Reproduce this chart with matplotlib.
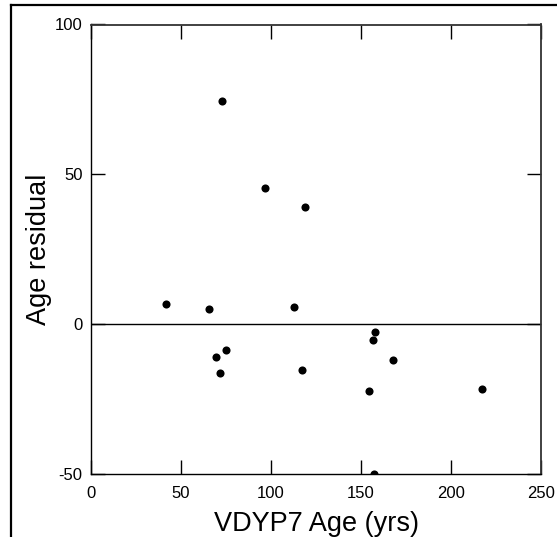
import matplotlib
matplotlib.use("Agg")
import matplotlib.pyplot as plt
from matplotlib.lines import Line2D

plt.rcParams['font.family'] = ['Liberation Sans', 'DejaVu Sans']
plt.rcParams['axes.unicode_minus'] = False

vdyp_age = [72.6, 96.5, 118.9, 41.7, 65.6, 112.8, 157.6, 156.7, 75.0, 69.4,
            71.7, 117.4, 167.6, 154.6, 217.1, 157.4]
age_residual = [74.5, 45.5, 39.0, 6.6, 5.2, 5.6, -2.6, -5.4, -8.6, -10.9,
                -16.2, -15.2, -11.8, -22.2, -21.7, -50.0]
x_ticks = [0, 50, 100, 150, 200, 250]
y_ticks = [-50, 0, 50, 100]

W, H = 557, 537
fig = plt.figure(figsize=(W / 100, H / 100), dpi=100)
ax = fig.add_axes([91 / W, 1 - 474 / H, (541 - 91) / W, (474 - 24.5) / H])

ax.scatter(vdyp_age, age_residual, s=34, color='black', zorder=3, linewidths=0)
ax.axhline(0, color='black', linewidth=1.0, zorder=2)

ax.set_xlim(0, 250)
ax.set_ylim(-50, 100)
ax.set_xticks(x_ticks)
ax.set_yticks(y_ticks)
ax.tick_params(direction='in', length=10, width=1.0, labelsize=12,
               top=True, right=True, pad=6, color='black')
ax.tick_params(axis='x', pad=9)
for s in ['left', 'bottom']:
    ax.spines[s].set_linewidth(1.0)
    ax.spines[s].set_color('black')
for s in ['top', 'right']:
    ax.spines[s].set_linewidth(1.3)
    ax.spines[s].set_color('#333333')

ax.set_xlabel('VDYP7 Age (yrs)', fontsize=19.5, labelpad=7)
ax.set_ylabel('Age residual', fontsize=19.5, labelpad=2)

# outer frame (left and top edges visible)
fig.add_artist(Line2D([10.5 / W, 10.5 / W], [0, 1 - 5 / H], transform=fig.transFigure,
                      color='black', linewidth=1.6))
fig.add_artist(Line2D([10.5 / W, 1], [1 - 5 / H, 1 - 5 / H], transform=fig.transFigure,
                      color='black', linewidth=1.6))

fig.savefig('out.png', dpi=100)
